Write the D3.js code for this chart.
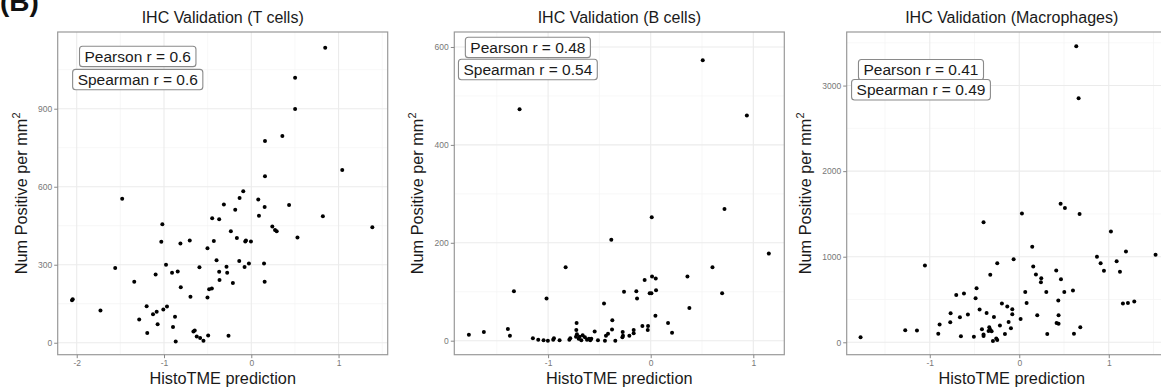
<!DOCTYPE html>
<html>
<head>
<meta charset="utf-8">
<script src="https://cdn.jsdelivr.net/npm/d3@7"></script>
<style>
  body { margin: 0; background: #fff; }
  svg { display: block; font-family: "Liberation Sans", Arial, Helvetica, sans-serif; }
</style>
</head>
<body>
<svg id="fig" width="1161" height="390"></svg>
<script>
// T cells: HistoTME prediction / Num positive per mm2
const tcellPred = [0.847, 0.502, 0.502, 0.157, 0.356, 1.042, 0.157, -0.092, -0.134, 0.080,
  0.153, -0.314, -0.184, 0.433, 0.088, 0.820, -0.448, -0.368, 0.241, 0.272,
  0.291, 1.387, -0.234, -0.165, -0.061, -0.069, -0.004, -0.429, 0.529, -1.479,
  -1.019, -1.031, -0.812, -0.705, -0.502, -1.559, -0.977, -1.341, -1.096, -0.908,
  -0.843, -0.594, -0.398, -0.284, -0.276, -0.138, -0.077, -0.027, 0.146, 0.153,
  -0.368, -0.364, -0.211, -0.808, -0.697, -0.483, -0.452, -0.502, -2.054, -2.046,
  -1.728, -1.199, -1.008, -0.966, -1.126, -1.084, -1.284, -0.874, -1.073, -0.897,
  -1.192, -0.866, -0.663, -0.648, -0.625, -0.586, -0.548, -0.494, -0.261];
const tcellCount = [1134, 1019, 899, 776, 795, 664, 640, 583, 557, 551,
  522, 532, 511, 530, 488, 486, 479, 475, 447, 434,
  429, 444, 429, 403, 393, 389, 389, 391, 405, 554,
  456, 388, 382, 393, 363, 287, 300, 235, 262, 269,
  274, 290, 317, 292, 269, 314, 291, 305, 305, 235,
  273, 241, 230, 213, 177, 206, 209, 174, 163, 167,
  124, 140, 128, 139, 110, 119, 89, 100, 71, 61,
  37, 5, 43, 47, 24, 18, 8, 28, 27];

// B cells
const bcellPred = [0.507, 0.937, -1.278, 0.010, 0.719, -0.384, 1.151, -0.829, 0.602, 0.358,
  0.013, 0.049, -0.059, -1.333, -0.260, -0.140, 0.052, -0.010, 0.007, 0.696,
  -1.015, -0.133, -0.455, 0.377, 0.046, -0.374, -0.722, 0.169, -0.081, -0.026,
  -0.029, -0.166, 0.208, -1.392, -1.372, -1.772, -1.626, -1.148, -1.096, -1.044,
  -1.002, -0.950, -0.888, -0.943, -0.793, -0.784, -0.725, -0.719, -0.693, -0.676,
  -0.663, -0.641, -0.621, -0.602, -0.579, -0.546, -0.514, -0.446, -0.436, -0.416,
  -0.377, -0.345, -0.273, -0.270, -0.276, -0.208, -0.166, -0.728, -0.589, -0.702];
const bcellCount = [573, 460, 473, 252, 269, 206, 178, 150, 150, 131,
  131, 127, 124, 101, 100, 101, 103, 97, 97, 97,
  86, 86, 76, 67, 51, 42, 36, 36, 30, 30,
  22, 22, 16, 24, 10, 12, 18, 5, 2, 1,
  0, 2, 1, 5, 2, 5, 22, 13, 8, 1,
  11, 7, 2, 4, 4, 19, 1, 0, 10, 14,
  23, 0, 18, 10, 7, 10, 15, 8, 1, 4];

// Macrophages
const macroPred = [0.637, 0.663, 0.462, 0.510, 0.030, 0.674, -0.399, 1.024, 0.145, 1.192,
  1.523, 0.868, 1.088, 0.909, -0.063, -0.246, 0.946, 1.125, -1.054, 0.156,
  -0.324, 0.413, 0.186, 0.246, 0.242, 0.466, -0.477, 0.067, 0.302, 0.503,
  0.600, -0.704, -0.618, -0.488, 0.082, 0.436, 1.158, 1.214, 1.285, -0.443,
  -0.365, -0.194, -0.134, -0.078, -0.078, -0.767, -0.574, -0.663, -0.283, 0.015,
  0.201, 0.439, -0.890, -0.771, -0.905, -1.274, -1.143, -1.773, -0.652, -0.507,
  -0.417, -0.399, -0.399, -0.335, -0.324, -0.309, -0.343, -0.216, -0.119, -0.093,
  -0.160, -0.294, -0.257, -0.246, 0.417, 0.439, 0.313, 0.611, 0.682];
const macroCount = [3460, 2852, 1619, 1568, 1506, 1498, 1404, 1295, 1116, 1061,
  1022, 999, 948, 925, 971, 925, 835, 823, 897, 886,
  788, 839, 792, 749, 702, 737, 632, 589, 589, 589,
  605, 554, 570, 515, 460, 488, 452, 460, 476, 382,
  343, 452, 417, 386, 328, 339, 324, 293, 296, 273,
  316, 316, 207, 234, 101, 140, 137, 59, 70, 66,
  152, 90, 74, 176, 148, 129, 133, 195, 238, 164,
  98, 16, 43, 27, 226, 218, 98, 101, 176];

const panelTitles = ["IHC Validation (T cells)", "IHC Validation (B cells)", "IHC Validation (Macrophages)"];
const pearsonR = [0.6, 0.48, 0.41];
const spearmanR = [0.6, 0.54, 0.49];

const svg = d3.select("#fig");

svg.append("text") /* panel tag, cut at the top as in the figure */
  .attr("x", 0).attr("y", 11)
  .attr("font-size", 28).attr("font-weight", "bold")
  .attr("fill", "#111")
  .text("(B)");

const panels = [
  { xs: tcellPred, ys: tcellCount, left: 57.7, ylabX: 26.7,
    xDomain: [-2.218, 1.563], yDomain: [-46, 1195],
    xTicks: [-2, -1, 0, 1], yTicks: [0, 300, 600, 900],
    xMinor: [-1.5, -0.5, 0.5, 1.5], yMinor: [150, 450, 750, 1050],
    labelAt: [-1.301, 1101, 1012] },
  { xs: bcellPred, ys: bcellCount, left: 454.3, ylabX: 423.3,
    xDomain: [-1.914, 1.302], yDomain: [-28.6, 630.6],
    xTicks: [-1, 0, 1], yTicks: [0, 200, 400, 600],
    xMinor: [-1.5, -0.5, 0.5], yMinor: [100, 300, 500],
    labelAt: [-1.197, 599, 554] },
  { xs: macroPred, ys: macroCount, left: 846.7, ylabX: 810.5,
    xDomain: [-1.928, 1.759], yDomain: [-145, 3626],
    xTicks: [-1, 0, 1], yTicks: [0, 1000, 2000, 3000],
    xMinor: [-1.5, -0.5, 0.5, 1.5], yMinor: [500, 1500, 2500, 3500],
    labelAt: [-1.098, 3185, 2951] }
];

const panelTop = 32, panelW = 330, panelH = 322.7;

panels.forEach(function(p, i) {
  let g = svg.append("g");
  let x = d3.scaleLinear().domain(p.xDomain).range([p.left, p.left + panelW]),
      y = d3.scaleLinear().domain(p.yDomain).range([panelTop + panelH, panelTop]);

  /* minor grid */
  g.selectAll(".vminor").data(p.xMinor).enter().append("line")
    .attr("x1", d => x(d)).attr("x2", d => x(d))
    .attr("y1", panelTop).attr("y2", panelTop + panelH)
    .attr("stroke", "#f4f4f4").attr("stroke-width", 0.7);
  g.selectAll(".hminor").data(p.yMinor).enter().append("line")
    .attr("x1", p.left).attr("x2", p.left + panelW)
    .attr("y1", d => y(d)).attr("y2", d => y(d))
    .attr("stroke", "#f4f4f4").attr("stroke-width", 0.7);

  /* major grid */
  g.selectAll(".vmajor").data(p.xTicks).enter().append("line")
    .attr("x1", d => x(d)).attr("x2", d => x(d))
    .attr("y1", panelTop).attr("y2", panelTop + panelH)
    .attr("stroke", "#ebebeb").attr("stroke-width", 1.1);
  g.selectAll(".hmajor").data(p.yTicks).enter().append("line")
    .attr("x1", p.left).attr("x2", p.left + panelW)
    .attr("y1", d => y(d)).attr("y2", d => y(d))
    .attr("stroke", "#ebebeb").attr("stroke-width", 1.1);

  /* points */
  g.selectAll(".pt").data(p.xs).enter().append("circle")
    .attr("cx", d => x(d))
    .attr("cy", (d, k) => y(p.ys[k]))
    .attr("r", 2)
    .attr("fill", "#000");

  /* correlation labels */
  let labels = [["Pearson r = " + pearsonR[i], p.labelAt[1]], ["Spearman r = " + spearmanR[i], p.labelAt[2]]];
  labels.forEach(function(l) {
    let cx = x(p.labelAt[0]), cy = y(l[1]);
    let box = g.append("rect");
    let t = g.append("text")
      .attr("x", cx).attr("y", cy + 5.4)
      .attr("text-anchor", "middle")
      .attr("font-size", 15.5).attr("fill", "#1a1a1a")
      .text(l[0]);
    let w = t.node().getComputedTextLength() + 10;
    box.attr("x", cx - w / 2).attr("y", cy - 10.2)
      .attr("width", w).attr("height", 20.4)
      .attr("rx", 3).attr("fill", "#fff")
      .attr("stroke", "#8a8a8a").attr("stroke-width", 1.1);
  });

  /* panel border */
  g.append("rect")
    .attr("x", p.left).attr("y", panelTop)
    .attr("width", panelW).attr("height", panelH)
    .attr("fill", "none").attr("stroke", "#999").attr("stroke-width", 1.2);

  /* axes */
  let xAxis = g.append("g")
    .attr("transform", `translate(0, ${panelTop + panelH})`)
    .call(d3.axisBottom(x).tickValues(p.xTicks).tickSize(3.5).tickPadding(2).tickFormat(d => String(d)));
  let yAxis = g.append("g")
    .attr("transform", `translate(${p.left}, 0)`)
    .call(d3.axisLeft(y).tickValues(p.yTicks).tickSize(3.5).tickPadding(2).tickFormat(d => String(d)));
  [xAxis, yAxis].forEach(function(a) {
    a.select(".domain").remove();
    a.selectAll(".tick line").attr("stroke", "#888");
    a.selectAll(".tick text").attr("fill", "#777").attr("font-size", 8.5)
      .attr("font-family", "Liberation Sans, Arial, sans-serif");
  });

  /* titles */
  g.append("text")
    .attr("x", p.left + panelW / 2).attr("y", 23.3)
    .attr("text-anchor", "middle").attr("font-size", 16).attr("fill", "#1a1a1a")
    .text(panelTitles[i]);
  g.append("text")
    .attr("x", p.left + panelW / 2).attr("y", 384)
    .attr("text-anchor", "middle").attr("font-size", 16.3).attr("fill", "#1a1a1a")
    .text("HistoTME prediction");
  let yl = g.append("text")
    .attr("transform", `translate(${p.ylabX}, ${panelTop + panelH / 2}) rotate(-90)`)
    .attr("text-anchor", "middle").attr("font-size", 16.3).attr("fill", "#1a1a1a");
  yl.append("tspan").text("Num Positive per mm");
  yl.append("tspan").attr("font-size", 11).attr("dy", -7).text("2");
});
</script>
</body>
</html>
